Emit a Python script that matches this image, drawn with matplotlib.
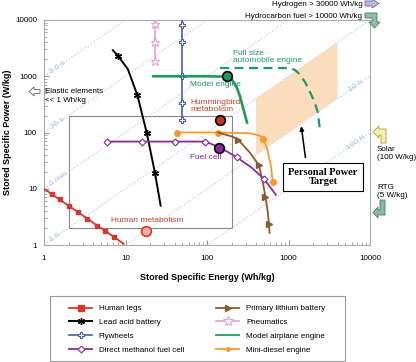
import matplotlib
matplotlib.use("Agg")
import matplotlib.pyplot as plt
from matplotlib.patches import Polygon, Rectangle
from matplotlib.lines import Line2D

plt.rcParams['font.family'] = ['Liberation Sans', 'DejaVu Sans']

# ---- data (specific energy Wh/kg, specific power W/kg) ----
legs_e = [1, 1.25, 1.55, 2.0, 2.6, 3.4, 4.5, 5.6, 7.2, 9.5]
legs_p = [10, 8, 6.45, 5, 3.85, 2.95, 2.2, 1.8, 1.39, 1.05]

lead_e = [7, 8.1, 10.7, 14, 18.3, 23, 27]
lead_p = [2900, 2300, 1330, 460, 96, 19, 5]

fly_e = [50, 50, 50, 50, 50, 50]
fly_p = [10000, 8300, 4100, 1000, 340, 170]

dmfc_e = [5.9, 16, 40, 94, 118, 176, 233, 350, 500, 700]
dmfc_p = [69, 69, 69, 69, 61, 46, 36, 24, 15, 7.8]

lith_e = [137, 207, 240, 335, 435, 490, 520, 555, 575, 585]
lith_p = [100, 84, 75, 44, 26, 12, 7.2, 4, 2.4, 1.65]

pneu_e = [23, 23, 23, 23]
pneu_p = [10000, 8500, 4000, 1850]

model_e = [22, 100, 177, 205, 232, 254, 280, 310]
model_p = [1000, 1000, 980, 850, 630, 440, 260, 150]

auto_e = [145, 600, 990, 1200, 1370, 1600, 1840, 2100, 2290, 2450]
auto_p = [1400, 1400, 1400, 1300, 1090, 780, 520, 340, 230, 100]

mini_e = [43, 137, 335, 440, 490, 550, 610, 640]
mini_p = [100, 100, 97, 88, 78, 50, 25, 13]

# highlighted single points
pts_names = ["Model engine", "Hummingbird", "Fuel cell", "Human metabolism"]
pts_e = [177, 145, 140, 18]
pts_p = [1000, 170, 54, 1.78]

# constant-time diagonals (hours) and their labels
diag_hours = [0.001, 0.01, 0.1, 1, 10, 100]
diag_labels = ["3.6 s", "36 s", "6 min", "1 h", "10 h", "100 h"]
diag_lab_e = [1.45, 1.45, 1.5, 1.37, 6700, 6700]

# personal power target region
target_e = [400, 4000, 4000, 400]
target_p = [400, 4000, 400, 40]

W, H = 416, 362
fig = plt.figure(figsize=(W / 100, H / 100), dpi=100)
ax = fig.add_axes([44 / W, 1 - 245 / H, (370 - 44) / W, (245 - 20) / H])
ax.set_xscale('log')
ax.set_yscale('log')
ax.set_xlim(1, 10000)
ax.set_ylim(1, 10000)

for s in ax.spines.values():
    s.set_color('#aaaaaa')
    s.set_linewidth(0.8)
ax.tick_params(which='both', direction='in', color='#999999', labelsize=5.8)
ax.tick_params(axis='x', pad=7)
ax.tick_params(axis='y', pad=5)
ticks = [1, 10, 100, 1000, 10000]
ax.set_xticks(ticks)
ax.set_xticklabels([str(t) for t in ticks])
ax.set_yticks(ticks)
ax.set_yticklabels([str(t) for t in ticks])

# diagonals
ev = [1, 10000]
for h, lab, le in zip(diag_hours, diag_labels, diag_lab_e):
    ax.plot(ev, [e / h for e in ev], color='#b5c9d8', lw=0.6,
            ls=(0, (2, 2)), zorder=1)
    ax.text(le, le / h * 1.0, lab, rotation=34.5, color='#a5c5de',
            fontsize=6, ha='center', va='center', zorder=1)

# target region
ax.add_patch(Polygon(list(zip(target_e, target_p)), closed=True,
                     fc='#fbdcbc', ec='none', zorder=1.5))
ax.add_patch(Rectangle((2, 2), 198, 198, fill=False, ec='#888888',
                       lw=0.8, zorder=1.6))

c_red = '#d4382c'
c_blue = '#4a5ba8'
c_purple = '#8b2b9b'
c_brown = '#8b5a2b'
c_pink = '#e2a2d8'
c_green = '#1f9a5f'
c_orange = '#f59a30'

ax.plot(legs_e, legs_p, color=c_red, lw=1.3, marker='s', ms=3.2,
        markevery=list(range(1, 9)), zorder=4)
ax.plot(lead_e, lead_p, color='black', lw=1.4, marker=(6, 2, 0), ms=5,
        markevery=[1, 3, 4, 5], zorder=4)
ax.plot(fly_e, fly_p, color=c_blue, lw=1.2, marker='P', ms=5, mfc='white',
        mec=c_blue, mew=0.8, markevery=[1, 2, 3, 4, 5], zorder=4)
ax.plot(pneu_e, pneu_p, color=c_pink, lw=1.2, marker='*', ms=6.5,
        mfc='white', mec=c_pink, mew=0.8, markevery=[1, 2, 3], zorder=4)
ax.plot(model_e, model_p, color=c_green, lw=1.9, zorder=4)
ax.plot(auto_e, auto_p, color=c_green, lw=1.6, ls=(0, (4, 2.5)), zorder=4)
ax.plot(mini_e, mini_p, color=c_orange, lw=1.3, marker='o', ms=4,
        markevery=[0, 1, 4, 7], zorder=4)
ax.plot(lith_e, lith_p, color=c_brown, lw=1.3, marker='>', ms=4,
        markevery=[2, 4, 6, 8], zorder=4)
ax.plot(dmfc_e, dmfc_p, color=c_purple, lw=1.3, marker='D', ms=3.5,
        mfc='white', mec=c_purple, mew=0.8, markevery=[0, 1, 2, 3, 6, 8],
        zorder=5)

# big points
pt_fc = [c_green, '#c8302a', c_purple, '#f3b0a8']
pt_ec = ['black', 'black', 'black', c_red]
for e, p, fc, ec in zip(pts_e, pts_p, pt_fc, pt_ec):
    ax.plot([e], [p], 'o', ms=7, mfc=fc, mec=ec, mew=1.2, zorder=6)

# labels
ax.text(62, 720, "Model engine", color=c_green, fontsize=6, va='center')
ax.text(62, 300, "Hummingbird\nmetabolism", color='#c8402c', fontsize=6,
        va='center', linespacing=0.95)
ax.text(62, 36, "Fuel cell", color=c_purple, fontsize=6, va='center')
ax.text(18.4, 2.7, "Human metabolism", color='#c8402c', fontsize=6,
        ha='center', va='center')
ax.text(208, 2200, "Full size\nautomobile engine", color=c_green,
        fontsize=6, va='center', linespacing=0.95)

ax.text(2650, 16.3, "Personal Power\nTarget", family='Liberation Serif',
        fontweight='bold', fontsize=7.5, ha='center', va='center',
        linespacing=1.0, zorder=7,
        bbox=dict(boxstyle='square,pad=0.5', fc='white', ec='black', lw=0.8))
ax.annotate("", xy=(1420, 145), xytext=(1630, 32),
            arrowprops=dict(arrowstyle='-|>', color='black', lw=1.1,
                            mutation_scale=6), zorder=7)

# axis titles
fig.text(207 / W, 1 - 277 / H, "Stored Specific Energy (Wh/kg)",
         fontsize=6.5, fontweight='bold', ha='center', va='center')
fig.text(8 / W, 1 - 132 / H, "Stored Specific Power (W/kg)",
         fontsize=6.5, fontweight='bold', ha='center', va='center',
         rotation=90)


def fig_poly(pts, fc, ec):
    xy = [(x / W, 1 - y / H) for x, y in pts]
    fig.patches.append(Polygon(xy, closed=True, fc=fc, ec=ec, lw=0.6,
                               transform=fig.transFigure, figure=fig))


# side annotations
fig_poly([(29, 91.5), (34, 87), (34, 89.5), (40, 89.5), (40, 93.5),
          (34, 93.5), (34, 96)], 'white', '#666666')
fig.text(45 / W, 1 - 96 / H, "Elastic elements\n<< 1 Wh/kg", fontsize=5.8,
         va='center', linespacing=1.25)

fig_poly([(365, 1), (372, 1), (372, -1), (379, 3.5), (372, 8), (372, 6),
          (365, 6)], '#bcb8e4', '#6a6a9a')
fig.text(363 / W, 1 - 4 / H, "Hydrogen > 30000 Wh/kg", fontsize=5.8,
         ha='right', va='center')
fig_poly([(365, 13), (377, 13), (377, 22), (380, 22), (374.5, 28),
          (369, 22), (372, 22), (372, 18), (365, 18)], '#8dbfa5', '#4a7a60')
fig.text(362 / W, 1 - 16 / H, "Hydrocarbon fuel > 10000 Wh/kg",
         fontsize=5.8, ha='right', va='center')

fig_poly([(373, 132), (379, 126), (379, 129), (386, 129), (386, 143),
          (381, 143), (381, 135), (379, 135), (379, 138)], '#f4f0a8',
         '#a8a050')
fig.text(377 / W, 1 - 153.5 / H, "Solar\n(100 W/kg)", fontsize=5.8,
         va='center', linespacing=1.25)
fig.text(377 / W, 1 - 191.5 / H, "RTG\n(5 W/kg)", fontsize=5.8,
         va='center', linespacing=1.25)
fig_poly([(380, 200), (385, 200), (385, 215), (378, 215), (378, 218),
          (373, 212.5), (378, 207), (378, 210), (380, 210)], '#8ab8a0',
         '#4a7a60')

# legend
handles = [
    Line2D([], [], color=c_red, lw=1.3, marker='s', ms=4.5),
    Line2D([], [], color='black', lw=1.4, marker=(6, 2, 0), ms=5),
    Line2D([], [], color=c_blue, lw=1.2, marker='P', ms=5, mfc='white', mew=0.8),
    Line2D([], [], color=c_purple, lw=1.3, marker='D', ms=3.5, mfc='white', mew=0.8),
    Line2D([], [], color=c_brown, lw=1.3, marker='>', ms=5),
    Line2D([], [], color=c_pink, lw=1.2, marker='*', ms=7, mfc='white', mew=0.8),
    Line2D([], [], color=c_green, lw=1.3),
    Line2D([], [], color=c_orange, lw=1.3, marker='o', ms=2.5),
]
labels = ["Human legs", "Lead acid battery", "Flywheels",
          "Direct methanol fuel cell", "Primary lithium battery",
          "Pneumatics", "Model airplane engine", "Mini-diesel engine"]
fig.legend(handles, labels, loc='upper left', ncol=2, frameon=False,
           bbox_to_anchor=(60 / W, 1 - 296 / H), fontsize=5.8,
           handlelength=2.9, handletextpad=0.8, labelspacing=0.75,
           columnspacing=4.0, borderpad=0.6)
fig.patches.append(Rectangle((50 / W, 1 - 361 / H), 295 / W, 65 / H,
                             fill=False, ec='#999999', lw=0.8,
                             transform=fig.transFigure, figure=fig))

fig.savefig("out.png", dpi=100)
